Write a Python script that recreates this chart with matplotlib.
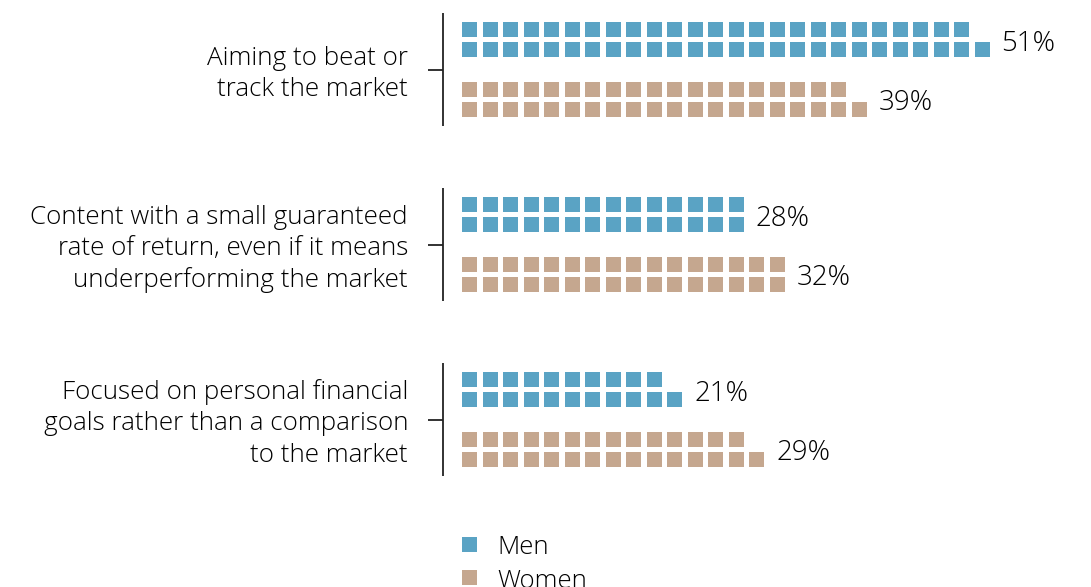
import math
import matplotlib
matplotlib.use("Agg")
import matplotlib.pyplot as plt
from matplotlib.patches import Rectangle

# ---- data ----
categories = [
    ["Aiming to beat or", "track the market"],
    ["Content with a small guaranteed", "rate of return, even if it means", "underperforming the market"],
    ["Focused on personal financial", "goals rather than a comparison", "to the market"],
]
series_names = ["Men", "Women"]
men = [51, 28, 21]
women = [39, 32, 29]
colors = ["#5AA3C4", "#C5A78F"]

plt.rcParams['font.family'] = ['Open Sans', 'DejaVu Sans']
plt.rcParams['font.weight'] = 'light'
TEXT = "#000000"

W, H = 1091, 587
fig = plt.figure(figsize=(W / 100, H / 100), dpi=100)
ax = fig.add_axes([0, 0, 1, 1])
ax.axis("off")

# x in "square" units (one square = 1 percentage point, pitch 20.5 px), y in pixel rows from top
PITCH = 20.5
X0 = 462
ax.set_xlim(-X0 / PITCH, (W - X0) / PITCH)
ax.set_ylim(H, 0)

SQ = 15 / PITCH       # square width in column units
SQH = 15              # square height in px
ROW = 20              # row pitch
GROUP0 = 22.3         # top of first row
GROUP_STEP = 175
SERIES_STEP = 59.4

values = [men, women]
for g in range(len(categories)):
    gtop = GROUP0 + g * GROUP_STEP
    for s, vals in enumerate(values):
        v = vals[g]
        bottom_n = math.ceil(v / 2)
        top_n = v - bottom_n
        ytop = gtop + s * SERIES_STEP
        for r, n in enumerate([top_n, bottom_n]):
            for i in range(n):
                ax.add_patch(Rectangle((i, ytop + r * ROW), SQ, SQH,
                                       facecolor=colors[s], edgecolor="none"))
        ax.text(bottom_n - 1 + SQ + 12 / PITCH, ytop + 17.5 + 11, f"{v}%",
                ha="left", va="baseline", fontsize=20, color=TEXT, fontweight="light")
    # group axis line and tick
    center = gtop + (SERIES_STEP + ROW + SQH) / 2
    ax.plot([-19.5 / PITCH, -19.5 / PITCH], [gtop - 9.5, gtop + SERIES_STEP + ROW + SQH + 9],
            color="#222222", lw=1.3, solid_capstyle="butt")
    ax.plot([-34 / PITCH, -19.5 / PITCH], [center, center], color="#222222", lw=1.3,
            solid_capstyle="butt")
    lines = categories[g]
    n = len(lines)
    for k, line in enumerate(lines):
        yb = center + 11 + (k - (n - 1) / 2) * 31.7
        ax.text(-54 / PITCH, yb, line, ha="right", va="baseline", fontsize=18.7,
                color=TEXT, fontweight="light")

# legend
for s, name in enumerate(series_names):
    ytop = 537 + s * 33
    ax.add_patch(Rectangle((0, ytop), SQ, SQH, facecolor=colors[s], edgecolor="none"))
    ax.text(35 / PITCH, ytop + 17.5, name, ha="left", va="baseline", fontsize=18.5,
            color=TEXT, fontweight="light")

fig.savefig("out.png", dpi=100, facecolor="white")
